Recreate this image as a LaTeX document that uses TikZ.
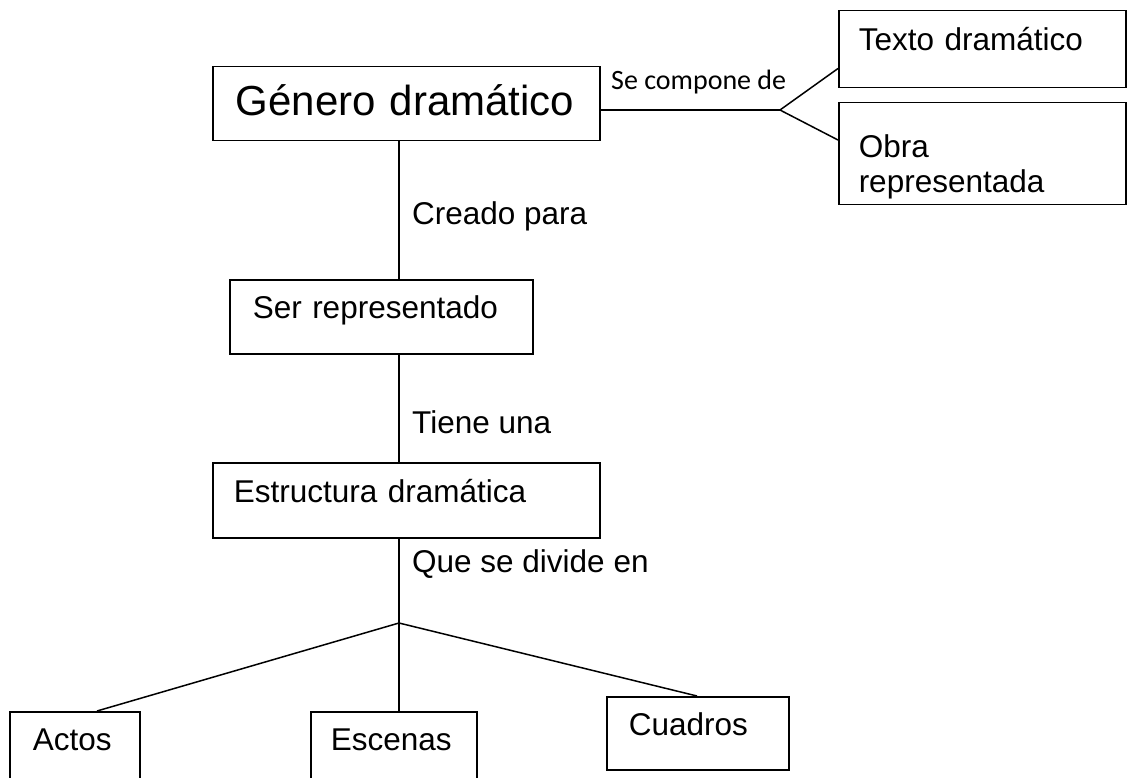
\documentclass[tikz,border=0pt]{standalone}
\usepackage{fontspec}
\setmainfont{Liberation Sans}
\newfontfamily\calibri{Carlito}
\usetikzlibrary{calc}

\tikzset{
  caja/.style={draw, line width=1.5pt, anchor=north west, align=left,
    inner ysep=0pt, font=\fontsize{31.5}{35}\selectfont},
  rotulo/.style={anchor=base west, inner sep=0pt,
    font=\fontsize{31.5}{35}\selectfont},
  linea/.style={line width=1.5pt}
}

\begin{document}
\begin{tikzpicture}[x=1pt, y=-1pt]
    \clip (0,0) rectangle (1130,778);

    % Boxes
    \node[caja, inner xsep=23pt, text width=341pt, text height=49pt, text depth=25pt,
      font=\fontsize{42}{48}\selectfont] (genero) at (212,66) {Género dramático};
    \node[caja, inner xsep=20pt, text width=247pt, text height=40pt, text depth=37pt]
      (texto) at (838,10) {Texto dramático};
    \node[caja, inner xsep=20pt, text width=247pt, text height=55pt, text depth=47pt]
      (obra) at (838,102) {Obra\\representada};
    \node[caja, inner xsep=23pt, text width=257pt, text height=39pt, text depth=35pt]
      (ser) at (229,279) {Ser representado};
    \node[caja, inner xsep=21pt, text width=345pt, text height=40pt, text depth=35pt]
      (estructura) at (212,462) {Estructura dramática};
    \node[caja, inner xsep=23pt, text width=84pt, text height=39pt, text depth=32pt]
      (actos) at (9,711) {Actos};
    \node[caja, inner xsep=20pt, text width=126pt, text height=39pt, text depth=32pt]
      (escenas) at (310,711) {Escenas};
    \node[caja, inner xsep=22pt, text width=138pt, text height=39pt, text depth=34pt]
      (cuadros) at (606,696) {Cuadros};

    % Labels
    \node[rotulo, font=\calibri\fontsize{28}{32}\selectfont] (compone) at (611,90) {Se compone de};
    \node[rotulo] (creado) at (412,225) {Creado para};
    \node[rotulo] (tiene) at (412,433) {Tiene una};
    \node[rotulo] (divide) at (412,572) {Que se divide en};

    % Connectors
    \coordinate (eje) at (399,0);
    \coordinate (nudo) at (780,110);
    \coordinate (rama) at (399,623);
    \draw[linea] (genero.east |- nudo) -- (nudo);
    \draw[linea] (nudo) -- ([yshift=20pt]texto.south west);
    \draw[linea] (nudo) -- ([yshift=-38pt]obra.north west);
    \draw[linea] (genero.south -| eje) -- (ser.north -| eje);
    \draw[linea] (ser.south -| eje) -- (estructura.north -| eje);
    \draw[linea] (estructura.south -| eje) -- (rama);
    \draw[linea] (rama) -- ([xshift=88pt]actos.north west);
    \draw[linea] (rama) -- (escenas.north -| rama);
    \draw[linea] (rama) -- ([xshift=91pt]cuadros.north west);
  \end{tikzpicture}
\end{document}
